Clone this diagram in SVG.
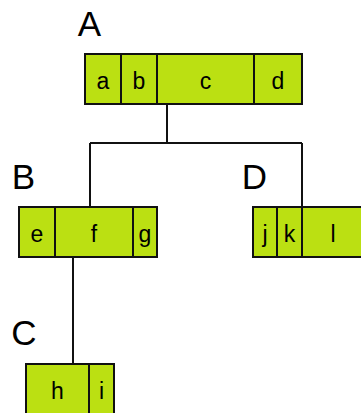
<svg xmlns="http://www.w3.org/2000/svg" width="361" height="413" viewBox="0 0 361 413">
<style>
.cell{fill:#bbe012;stroke:#111;stroke-width:2}
.t{font-family:"Liberation Sans",Arial,sans-serif;font-size:23px;fill:#000;text-anchor:middle}
.lab{font-family:"Liberation Sans",Arial,sans-serif;font-size:35px;fill:#000;text-anchor:middle}
.con{stroke:#111;stroke-width:2;fill:none}
</style>
<rect width="361" height="413" fill="#fff"/>
<g id="connectors">
<path class="con" d="M167,105V143M90,143H302M90,143V207M302,143V207M73,257V364"/>
</g>
<g id="nodeA">
<text class="lab" x="89.5" y="35.5">A</text>
<rect class="cell" x="85" y="54" width="36" height="50"/>
<rect class="cell" x="121" y="54" width="36" height="50"/>
<rect class="cell" x="157" y="54" width="97" height="50"/>
<rect class="cell" x="254" y="54" width="48" height="50"/>
<text class="t" x="103" y="89">a</text>
<text class="t" x="139" y="89">b</text>
<text class="t" x="205.5" y="89">c</text>
<text class="t" x="278" y="89">d</text>
</g>
<g id="nodeB">
<text class="lab" x="23.5" y="188.5">B</text>
<rect class="cell" x="19" y="207" width="36" height="50"/>
<rect class="cell" x="55" y="207" width="78" height="50"/>
<rect class="cell" x="133" y="207" width="24" height="50"/>
<text class="t" x="37" y="242">e</text>
<text class="t" x="94" y="242">f</text>
<text class="t" x="145" y="242">g</text>
</g>
<g id="nodeD">
<text class="lab" x="254.5" y="189">D</text>
<rect class="cell" x="253" y="207" width="24" height="50"/>
<rect class="cell" x="277" y="207" width="25" height="50"/>
<rect class="cell" x="302" y="207" width="62" height="50"/>
<text class="t" x="265" y="242">j</text>
<text class="t" x="289.5" y="242">k</text>
<text class="t" x="333" y="242">l</text>
</g>
<g id="nodeC">
<text class="lab" x="24" y="345">C</text>
<rect class="cell" x="26" y="364" width="63" height="50"/>
<rect class="cell" x="89" y="364" width="25" height="50"/>
<text class="t" x="57.5" y="399">h</text>
<text class="t" x="101.5" y="399">i</text>
</g>
</svg>
